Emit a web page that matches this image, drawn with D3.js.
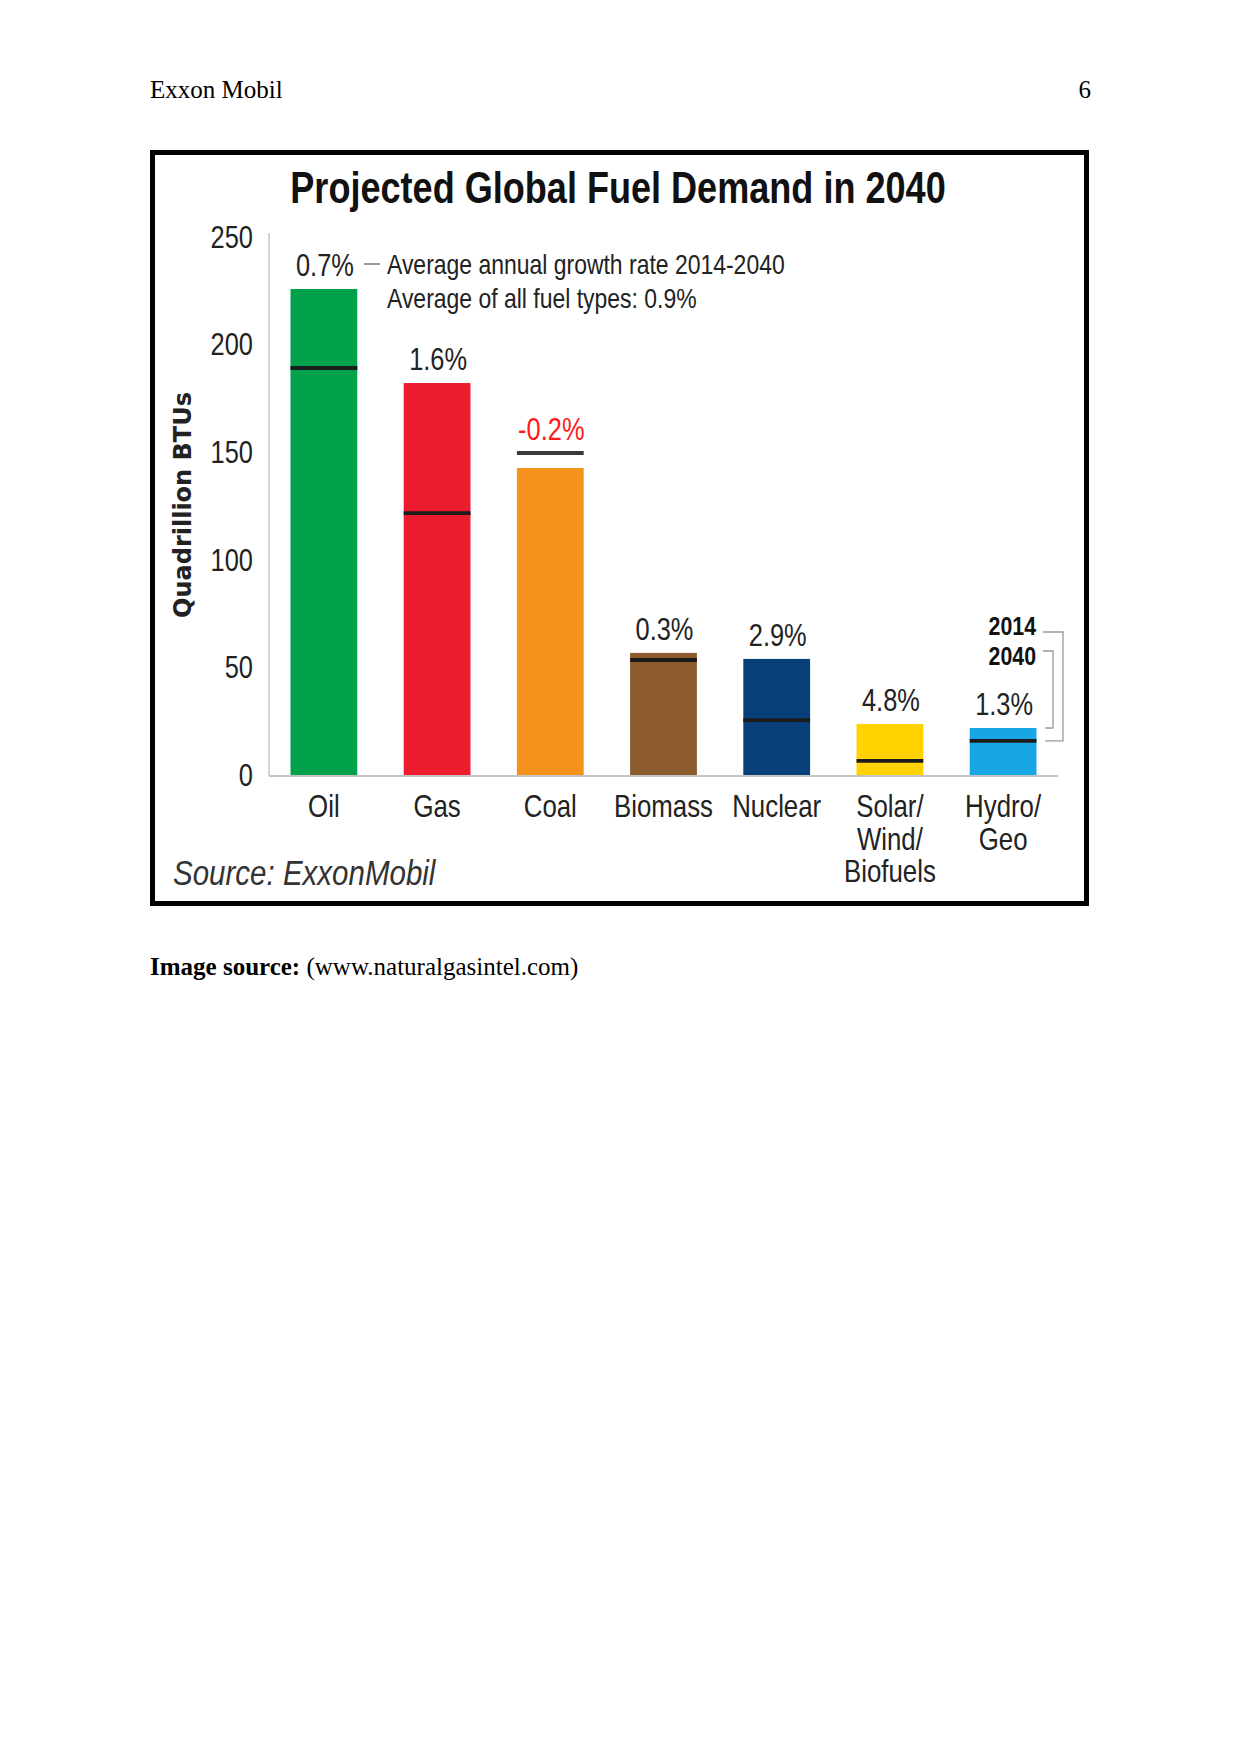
<!DOCTYPE html>
<html>
<head>
<meta charset="utf-8">
<script src="https://cdn.jsdelivr.net/npm/d3@7/dist/d3.min.js"></script>
<style>
  html, body { margin: 0; padding: 0; background: #fff; }
  svg { display: block; }
</style>
</head>
<body>
<div id="chart"></div>
<script>
// ---------- data ----------
const categories = ["Oil", "Gas", "Coal", "Biomass", "Nuclear", "Solar/Wind/Biofuels", "Hydro/Geo"];
const categoryLines = [["Oil"], ["Gas"], ["Coal"], ["Biomass"], ["Nuclear"], ["Solar/", "Wind/", "Biofuels"], ["Hydro/", "Geo"]];
const demand2040 = [226.3, 182.6, 143.1, 57.2, 54.4, 24.2, 22.3];
const demand2014 = [189.6, 122.2, 150.1, 53.9, 26.0, 7.0, 16.3];
const growthLabels = ["0.7%", "1.6%", "-0.2%", "0.3%", "2.9%", "4.8%", "1.3%"];
const barColors = ["#00a14b", "#ec1b2e", "#f5921e", "#8b5b2e", "#063f7a", "#ffd200", "#18a7e4"];
const yTicks = [0, 50, 100, 150, 200, 250];
const titleText = "Projected Global Fuel Demand in 2040";
const legendLines = ["Average annual growth rate 2014-2040", "Average of all fuel types: 0.9%"];
const yAxisTitle = "Quadrillion BTUs";
const sourceText = "Source: ExxonMobil";
const yearLabels = ["2014", "2040"];

// ---------- page ----------
const W = 1241, H = 1754;
const svg = d3.select("#chart").append("svg").attr("width", W).attr("height", H);
svg.append("rect").attr("width", W).attr("height", H).attr("fill", "#fff");

const serif = "'Liberation Serif', 'Times New Roman', serif";
const sans = "'Liberation Sans', Arial, sans-serif";
const NARROW = 0.82;

// page header
svg.append("text").attr("x", 150).attr("y", 98).attr("font-family", serif).attr("font-size", 25)
  .attr("fill", "#000").text("Exxon Mobil");
svg.append("text").attr("x", 1091).attr("y", 98).attr("font-family", serif).attr("font-size", 25)
  .attr("text-anchor", "end").attr("fill", "#000").text("6");

// caption under image
const cap = svg.append("text").attr("x", 150).attr("y", 975).attr("font-family", serif).attr("font-size", 25).attr("fill", "#000");
cap.append("tspan").attr("font-weight", "bold").text("Image source:");
cap.append("tspan").text(" (www.naturalgasintel.com)");

// frame
svg.append("rect").attr("x", 152.5).attr("y", 152.5).attr("width", 934).attr("height", 751)
  .attr("fill", "#fff").attr("stroke", "#000").attr("stroke-width", 5);

// helper for condensed text
function ntext(g, x, y, str, size, opts = {}) {
  const t = g.append("text")
    .attr("transform", `translate(${x},${y}) scale(${NARROW},1)`)
    .attr("font-family", sans)
    .attr("font-size", size)
    .attr("fill", opts.fill || "#222")
    .attr("text-anchor", opts.anchor || "start")
    .attr("font-weight", opts.weight || "normal")
    .attr("font-style", opts.style || "normal")
    .text(str);
  return t;
}

// ---------- scales ----------
const plotLeft = 269, plotRight = 1058;
const x = d3.scaleBand().domain(categories).range([plotLeft, plotRight]).paddingInner(0.41).paddingOuter(0.19);
const y = d3.scaleLinear().domain([0, 250]).range([776, 238]);

const g = svg.append("g");

// title
ntext(g, 618, 203, titleText, 44, { anchor: "middle", weight: "bold", fill: "#111" });

// y axis line
g.append("line").attr("x1", plotLeft).attr("x2", plotLeft).attr("y1", 233).attr("y2", y(0))
  .attr("stroke", "#c4c4c4").attr("stroke-width", 1.5);

// y ticks (labels only)
const yAxis = d3.axisLeft(y).tickValues(yTicks).tickSize(0).tickPadding(0);
const yg = g.append("g").attr("transform", "translate(253,-1.5)").call(yAxis);
yg.select(".domain").remove();
yg.selectAll(".tick text").each(function(d) {
  const sel = d3.select(this);
  sel.attr("font-family", sans).attr("font-size", 31).attr("fill", "#222")
    .attr("dy", "0.35em").attr("x", 0)
    .attr("transform", `scale(${NARROW},1)`);
});

// y axis title
g.append("text")
  .attr("transform", "translate(191,505) rotate(-90)")
  .attr("text-anchor", "middle")
  .attr("font-family", "'DejaVu Sans', Verdana, sans-serif")
  .attr("font-weight", "bold")
  .attr("font-size", 24)
  .attr("fill", "#222")
  .text(yAxisTitle);

// bars
const data = categories.map((c, i) => ({
  c, lines: categoryLines[i], v40: demand2040[i], v14: demand2014[i], lbl: growthLabels[i], col: barColors[i]
}));

g.selectAll("rect.bar").data(data).join("rect").attr("class", "bar")
  .attr("x", d => x(d.c)).attr("width", x.bandwidth())
  .attr("y", d => y(d.v40)).attr("height", d => y(0) - y(d.v40))
  .attr("fill", d => d.col);

// 2014 markers
g.selectAll("line.m14").data(data).join("line").attr("class", "m14")
  .attr("x1", d => x(d.c)).attr("x2", d => x(d.c) + x.bandwidth())
  .attr("y1", d => y(d.v14)).attr("y2", d => y(d.v14))
  .attr("stroke", d => d.v14 > d.v40 ? "#3a3a3a" : "#1c1c1c")
  .attr("stroke-width", 3.8);

// baseline
g.append("line").attr("x1", plotLeft).attr("x2", plotRight).attr("y1", y(0)).attr("y2", y(0))
  .attr("stroke", "#c4c4c4").attr("stroke-width", 2);

// growth labels
data.forEach(d => {
  const cx = x(d.c) + x.bandwidth() / 2;
  ntext(g, cx + 1, y(Math.max(d.v14, d.v40)) - 13, d.lbl, 31, {
    anchor: "middle", fill: d.lbl.startsWith("-") ? "#ff1a1a" : "#222"
  });
});

// category labels
data.forEach(d => {
  const cx = x(d.c) + x.bandwidth() / 2;
  d.lines.forEach((ln, k) => {
    ntext(g, cx, 817 + k * 32.5, ln, 31.5, { anchor: "middle", fill: "#222" });
  });
});

// legend
g.append("line").attr("x1", 364).attr("x2", 380).attr("y1", 264).attr("y2", 264)
  .attr("stroke", "#777").attr("stroke-width", 1.5);
ntext(g, 387, 274, legendLines[0], 28, { fill: "#222" });
ntext(g, 387, 308, legendLines[1], 28, { fill: "#222" });

// 2014 / 2040 key with brackets (tied to the last bar)
const last = data[data.length - 1];
ntext(g, 1036, 635, yearLabels[0], 26, { anchor: "end", weight: "bold", fill: "#111" });
ntext(g, 1036, 665, yearLabels[1], 26, { anchor: "end", weight: "bold", fill: "#111" });
const bx0 = 1043;
g.append("path")
  .attr("d", `M${bx0},632 H1063 V${y(last.v14)} H${bx0 + 2}`)
  .attr("fill", "none").attr("stroke", "#999").attr("stroke-width", 1.3);
g.append("path")
  .attr("d", `M${bx0},651 H1053 V${y(last.v40)} H${bx0 + 2}`)
  .attr("fill", "none").attr("stroke", "#999").attr("stroke-width", 1.3);

// source
ntext(g, 173, 885, sourceText, 36, { style: "italic", fill: "#333" });
</script>
</body>
</html>
